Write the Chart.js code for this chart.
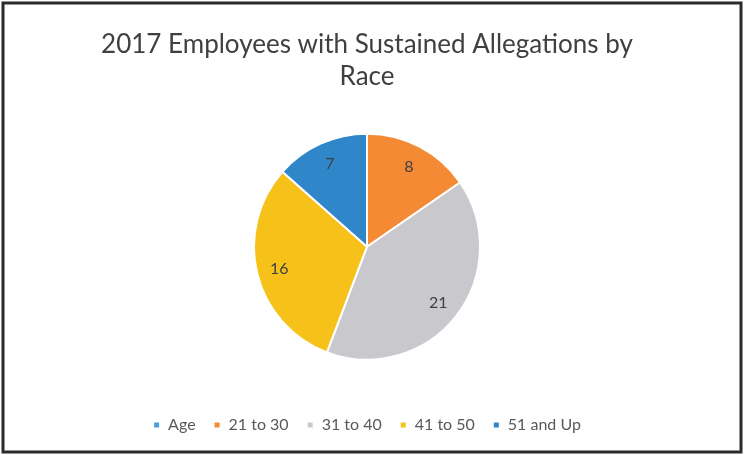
<!DOCTYPE html>
<html>
<head>
<meta charset="utf-8">
<script src="https://cdn.jsdelivr.net/npm/chart.js@4"></script>
<style>
  html, body { margin: 0; padding: 0; background: #fff; }
  #wrap { width: 745px; height: 455px; }
</style>
</head>
<body>
<div id="wrap"><canvas id="pieChart" width="745" height="455"></canvas></div>
<script>
const ctx = document.getElementById("pieChart");

const labels = ["Age", "21 to 30", "31 to 40", "41 to 50", "51 and Up"];
const counts = [0, 8, 21, 16, 7];
const colors = ["#4a9fdc", "#f48a34", "#c9c9cd", "#f6c21a", "#2f86c9"];

// draw the number inside each slice, a bit out from the middle
const sliceLabels = {
  id: "sliceLabels",
  afterDatasetsDraw(chart) {
    const c = chart.ctx;
    const meta = chart.getDatasetMeta(0);
    c.save();
    c.font = "16px Lato";
    c.fillStyle = "#404040";
    c.textAlign = "center";
    c.textBaseline = "middle";
    meta.data.forEach((arc, i) => {
      if (!counts[i]) return;
      const p = arc.getProps(["x", "y", "startAngle", "endAngle", "outerRadius"], true);
      const mid = (p.startAngle + p.endAngle) / 2;
      const r = p.outerRadius * 0.8;
      c.fillText(String(counts[i]), p.x + Math.cos(mid) * r, p.y + Math.sin(mid) * r);
    });
    c.restore();
  }
};

// white background and the dark frame round the picture
const frame = {
  id: "frame",
  beforeDraw(chart) {
    const c = chart.ctx;
    c.save();
    c.fillStyle = "#fff";
    c.fillRect(0, 0, chart.width, chart.height);
    c.strokeStyle = "#2a2a2a";
    c.lineWidth = 3;
    c.strokeRect(3, 3, chart.width - 7, chart.height - 6);
    c.restore();
  }
};

new Chart(ctx, {
  type: "pie",
  data: {
    labels: labels,
    datasets: [
      {
        data: counts,
        backgroundColor: colors,
        borderColor: "#fff",
        borderWidth: 2,
        radius: 113
      }
    ]
  },
  options: {
    responsive: false,
    animation: false,
    layout: { padding: { left: 0, right: 11, top: 0, bottom: 12 } },
    plugins: {
      tooltip: { enabled: false },
      title: {
        display: true,
        text: ["2017 Employees with Sustained Allegations by", "Race"],
        color: "#404040",
        font: { family: "Lato", size: 26, weight: "normal", lineHeight: 1.22 },
        padding: { top: 29, bottom: 2 }
      },
      legend: {
        position: "bottom",
        labels: {
          color: "#595959",
          font: { family: "Lato", size: 16 },
          boxWidth: 7,
          boxHeight: 7,
          padding: 18
        }
      }
    }
  },
  plugins: [frame, sliceLabels]
});
</script>
</body>
</html>
